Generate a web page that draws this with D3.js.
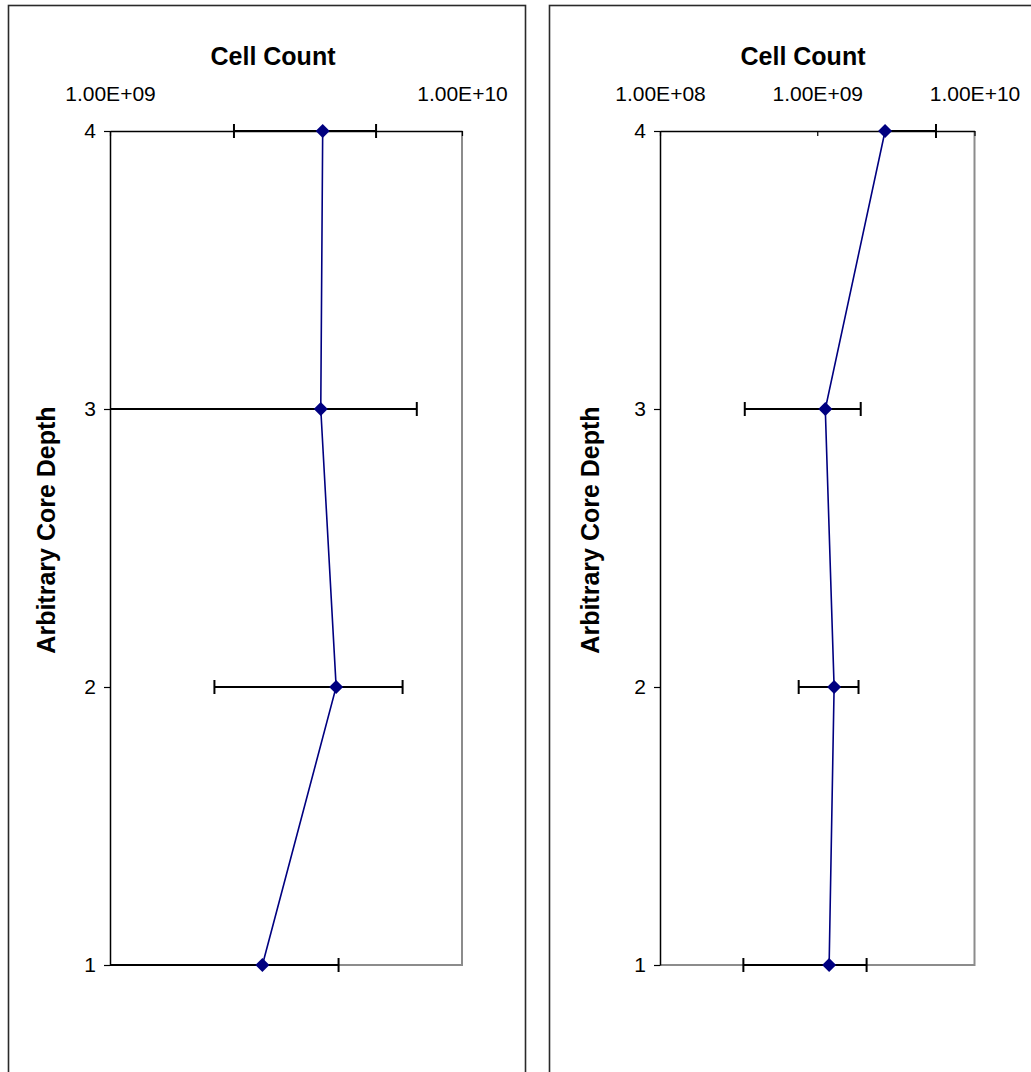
<!DOCTYPE html>
<html>
<head>
<meta charset="utf-8">
<script src="https://cdn.jsdelivr.net/npm/d3@7"></script>
<style>
  html, body { margin: 0; padding: 0; background: #fff; }
  svg { display: block; font-family: "Liberation Sans", Arial, sans-serif; }
</style>
</head>
<body>
<svg id="chart" width="1031" height="1072"></svg>
<script>
// Core depth levels (category axis, bottom to top)
const depths = [1, 2, 3, 4];
const depthTicks = ["1", "2", "3", "4"];

// Core A: mean cell counts with lower / upper error limits
const coreAMean = [2.71e9, 4.39e9, 3.97e9, 4.02e9];
const coreALow  = [5.0e8, 1.98e9, 6.0e8, 2.25e9];
const coreAHigh = [4.46e9, 6.78e9, 7.44e9, 5.70e9];
const coreATicks = [1e9, 1e10];

// Core B: mean cell counts with lower / upper error limits
const coreBMean = [1.19e9, 1.28e9, 1.125e9, 2.70e9];
const coreBLow  = [3.39e8, 7.62e8, 3.46e8, null];
const coreBHigh = [2.06e9, 1.83e9, 1.89e9, 5.69e9];
const coreBTicks = [1e8, 1e9, 1e10];

const titleText = "Cell Count";
const yTitleText = "Arbitrary Core Depth";

const svg = d3.select("#chart");
const fmtE = v => v.toExponential(2).toUpperCase().replace(/E\+(\d)$/, "E+0$1");

const panels = [
  { id: "a", frame: [8.5, 5.5, 517, 1100], plot: [110, 462, 131, 965],
    domain: [1e9, 1e10], ticks: coreATicks, mean: coreAMean, low: coreALow, high: coreAHigh,
    titleX: 273, yTitleX: 46 },
  { id: "b", frame: [549.5, 5.5, 600, 1100], plot: [660, 974.5, 131, 965],
    domain: [1e8, 1e10], ticks: coreBTicks, mean: coreBMean, low: coreBLow, high: coreBHigh,
    titleX: 803, yTitleX: 590 }
];

panels.forEach(p => {
  const [x0, x1, yTop, yBot] = p.plot;
  const x = d3.scaleLog().domain(p.domain).range([x0, x1]);
  const y = d3.scaleLinear().domain([1, 4]).range([yBot, yTop]);

  // Outer chart frame
  svg.append("rect")
    .attr("x", p.frame[0]).attr("y", p.frame[1])
    .attr("width", p.frame[2]).attr("height", p.frame[3])
    .attr("fill", "#fff").attr("stroke", "#2a2a2a").attr("stroke-width", 1.6);

  // Plot area border (right and bottom in grey)
  svg.append("path")
    .attr("d", `M${x1},${yTop}V${yBot}H${x0}`)
    .attr("fill", "none").attr("stroke", "#8c8c8c").attr("stroke-width", 2);

  // Top value axis (log scale), ticks pointing into the plot
  const xAxis = d3.axisTop(x).tickValues(p.ticks).tickFormat(fmtE)
    .tickSizeInner(-5).tickSizeOuter(0).tickPadding(30);
  const gx = svg.append("g").attr("transform", `translate(0,${yTop})`).call(xAxis);
  gx.select(".domain").attr("stroke", "#000").attr("stroke-width", 1.5);
  gx.selectAll(".tick line").attr("stroke", "#000").attr("stroke-width", 1.2);
  gx.selectAll(".tick text").attr("font-size", 21).attr("fill", "#000")
    .attr("font-family", "Liberation Sans, Arial, sans-serif");

  // Left depth axis
  const yAxis = d3.axisLeft(y).tickValues(depths).tickFormat((d, i) => depthTicks[i])
    .tickSize(6).tickSizeOuter(0).tickPadding(8);
  const gy = svg.append("g").attr("transform", `translate(${x0},0)`).call(yAxis);
  gy.select(".domain").attr("stroke", "#000").attr("stroke-width", 1.5);
  gy.selectAll(".tick line").attr("stroke", "#000").attr("stroke-width", 1.2);
  gy.selectAll(".tick text").attr("font-size", 21).attr("fill", "#000")
    .attr("font-family", "Liberation Sans, Arial, sans-serif");

  // Titles
  svg.append("text").attr("x", p.titleX).attr("y", 65)
    .attr("text-anchor", "middle").attr("font-size", 25).attr("font-weight", "bold")
    .text(titleText);
  svg.append("text")
    .attr("transform", `translate(${p.yTitleX},${(yTop + yBot) / 2 - 18}) rotate(-90)`)
    .attr("text-anchor", "middle").attr("dominant-baseline", "central")
    .attr("font-size", 25).attr("font-weight", "bold")
    .text(yTitleText);

  // Error bars, clipped to the plot area
  const clipId = "clip-" + p.id;
  svg.append("clipPath").attr("id", clipId).append("rect")
    .attr("x", x0).attr("y", yTop - 10).attr("width", x1 - x0).attr("height", yBot - yTop + 20);
  const eg = svg.append("g").attr("clip-path", `url(#${clipId})`);
  const rows = depths.map((d, i) => ({ d, mean: p.mean[i], low: p.low[i], high: p.high[i] }));
  rows.forEach(r => {
    const lo = r.low == null ? r.mean : r.low;
    eg.append("line")
      .attr("x1", x(Math.max(lo, p.domain[0] / 10))).attr("x2", x(r.high))
      .attr("y1", y(r.d)).attr("y2", y(r.d))
      .attr("stroke", "#000").attr("stroke-width", 2);
    [r.low, r.high].forEach(v => {
      if (v == null) return;
      eg.append("line")
        .attr("x1", x(v)).attr("x2", x(v))
        .attr("y1", y(r.d) - 7).attr("y2", y(r.d) + 7)
        .attr("stroke", "#000").attr("stroke-width", 2);
    });
  });

  // Mean line and diamond markers
  const line = d3.line().x(r => x(r.mean)).y(r => y(r.d));
  svg.append("path").datum(rows).attr("d", line)
    .attr("fill", "none").attr("stroke", "#000080").attr("stroke-width", 1.6);
  svg.append("g").selectAll("path").data(rows).join("path")
    .attr("transform", r => `translate(${x(r.mean)},${y(r.d)})`)
    .attr("d", "M0,-7L7,0L0,7L-7,0Z")
    .attr("fill", "#000080");
});
</script>
</body>
</html>
